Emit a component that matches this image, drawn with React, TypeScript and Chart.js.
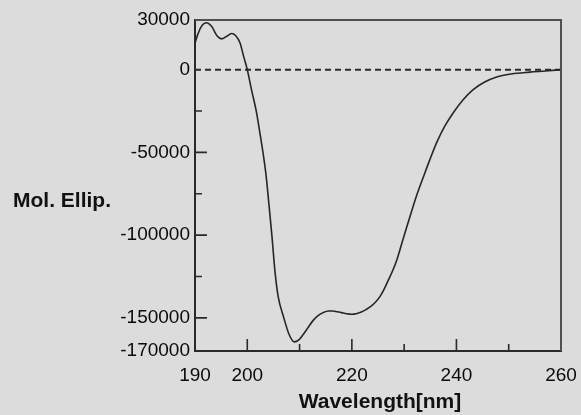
import React, { useEffect, useRef } from "react";
import { Chart, registerables } from "chart.js";

Chart.register(...registerables);

// ---- data ----
const wavelength = [
  190, 190.5, 191.2, 192.2, 193.2, 194.2, 195.1, 196, 197, 197.8, 198.6, 199.3, 200.0,
  200.8, 201.7, 202.4, 203.0, 203.6, 204.1, 204.7, 205.3, 205.9, 206.9, 208.0, 209.0,
  209.8, 210.7, 211.7, 212.6, 213.6, 214.5, 215.5, 216.4, 217.2, 218.0, 219.0, 220.0,
  221.0, 221.8, 222.7, 223.5, 224.5, 225.4, 226.2, 227.0, 227.8, 228.6, 229.6, 230.6,
  231.7, 232.5, 233.6, 234.9, 236.3, 237.8, 239.4, 241.2, 243.2, 245.4, 247.7, 250.5,
  254.0, 257.0, 260.0,
];
const ellipticity = [
  16000, 21000, 26000, 28300, 26000, 20500, 18600, 20000, 21800, 20500, 16200, 8000, 0,
  -12100, -24800, -38000, -50000, -64000, -80000, -100000, -122000, -137000, -149000, -160000, -164500,
  -163500, -160000, -155500, -151500, -148500, -146800, -145800, -145800, -146300, -146800, -147500, -147800,
  -147300, -146500, -145000, -143400, -140500, -137000, -132500, -127000, -121500, -115000, -104500, -94000,
  -82800, -75000, -65500, -54500, -43500, -34000, -26000, -18500, -12100, -7500, -4400, -2600,
  -1500, -800, 0,
];
const zeroLine = [0, 0];
const xRange = [190, 260];
const yRange = [-170000, 30000];
const xTickValues = [190, 200, 220, 240, 260];
const yTickValues = [30000, 0, -50000, -100000, -150000, -170000];
const xMajorMarks = [200, 220, 240];
const xMinorMarks = [210, 230, 250];
const yMajorMarks = [-50000, -100000, -150000];
const yMinorMarks = [-25000, -75000, -125000];
const xTitle = "Wavelength[nm]";
const yTitle = "Mol. Ellip.";

const FONT = "'Liberation Sans', Arial, Helvetica, sans-serif";

const framePlugin = {
  id: "framePlugin",
  afterDraw(chart: any) {
    const { ctx, chartArea, scales } = chart;
    const { left, right, top, bottom } = chartArea;
    const xs = scales.x;
    const ys = scales.y;
    ctx.save();
    // top and right frame
    ctx.strokeStyle = "#505050";
    ctx.lineWidth = 2;
    ctx.beginPath();
    ctx.moveTo(left, top);
    ctx.lineTo(right, top);
    ctx.lineTo(right, bottom);
    ctx.stroke();

    // inward tick marks
    ctx.strokeStyle = "#2a2a2a";
    ctx.lineWidth = 1.6;
    ctx.beginPath();
    xMajorMarks.forEach((v) => {
      const px = xs.getPixelForValue(v);
      ctx.moveTo(px, bottom);
      ctx.lineTo(px, bottom - 12);
    });
    xMinorMarks.forEach((v) => {
      const px = xs.getPixelForValue(v);
      ctx.moveTo(px, bottom);
      ctx.lineTo(px, bottom - 7);
    });
    yMajorMarks.forEach((v) => {
      const py = ys.getPixelForValue(v);
      ctx.moveTo(left, py);
      ctx.lineTo(left + 12, py);
    });
    yMinorMarks.forEach((v) => {
      const py = ys.getPixelForValue(v);
      ctx.moveTo(left, py);
      ctx.lineTo(left + 7, py);
    });
    ctx.stroke();

    // titles
    ctx.fillStyle = "#111";
    ctx.font = `bold 21px ${FONT}`;
    ctx.textBaseline = "alphabetic";
    ctx.textAlign = "left";
    ctx.fillText(yTitle, 13, 207);
    ctx.textAlign = "center";
    ctx.fillText(xTitle, (left + right) / 2 + 2, 408);
    ctx.restore();
  },
};

export default function App() {
  const canvasRef = useRef<HTMLCanvasElement | null>(null);

  useEffect(() => {
    if (!canvasRef.current) return;
    Chart.defaults.font.family = FONT;
    const chart = new Chart(canvasRef.current, {
      type: "line",
      data: {
        datasets: [
          {
            data: wavelength.map((x, i) => ({ x, y: ellipticity[i] })),
            borderColor: "#262626",
            borderWidth: 1.6,
            pointRadius: 0,
            cubicInterpolationMode: "monotone",
            fill: false,
          },
          {
            data: xRange.map((x, i) => ({ x, y: zeroLine[i] })),
            borderColor: "#2a2a2a",
            borderWidth: 2,
            borderDash: [6, 4],
            pointRadius: 0,
            fill: false,
          },
        ],
      },
      options: {
        animation: false,
        responsive: true,
        maintainAspectRatio: false,
        layout: { padding: { top: 20, right: 20, left: 0, bottom: 0 } },
        plugins: {
          legend: { display: false },
          tooltip: { enabled: false },
        },
        scales: {
          x: {
            type: "linear",
            min: xRange[0],
            max: xRange[1],
            afterBuildTicks: (scale: any) => {
              scale.ticks = xTickValues.map((value) => ({ value }));
            },
            afterFit: (scale: any) => {
              scale.height = 64;
              scale.paddingLeft = 0;
              scale.paddingRight = 0;
            },
            grid: { display: false, drawTicks: false },
            border: { display: true, color: "#2a2a2a", width: 2 },
            ticks: {
              padding: 13,
              maxRotation: 0,
              autoSkip: false,
              color: "#0a0a0a",
              font: { size: 19 },
              callback: (v: any) => String(v),
            },
          },
          y: {
            type: "linear",
            min: yRange[0],
            max: yRange[1],
            afterBuildTicks: (scale: any) => {
              scale.ticks = yTickValues.map((value) => ({ value }));
            },
            afterFit: (scale: any) => {
              scale.width = 195;
              scale.paddingTop = 0;
              scale.paddingBottom = 0;
            },
            grid: { display: false, drawTicks: false },
            border: { display: true, color: "#2a2a2a", width: 2 },
            ticks: {
              padding: 5,
              autoSkip: false,
              color: "#0a0a0a",
              font: { size: 19 },
              callback: (v: any) => String(v),
            },
          },
        },
      },
      plugins: [framePlugin],
    } as any);
    return () => chart.destroy();
  }, []);

  return (
    <div
      style={{
        position: "fixed",
        left: 0,
        top: 0,
        width: 581,
        height: 415,
        background: "#dcdcdc",
      }}
    >
      <canvas ref={canvasRef} />
    </div>
  );
}
